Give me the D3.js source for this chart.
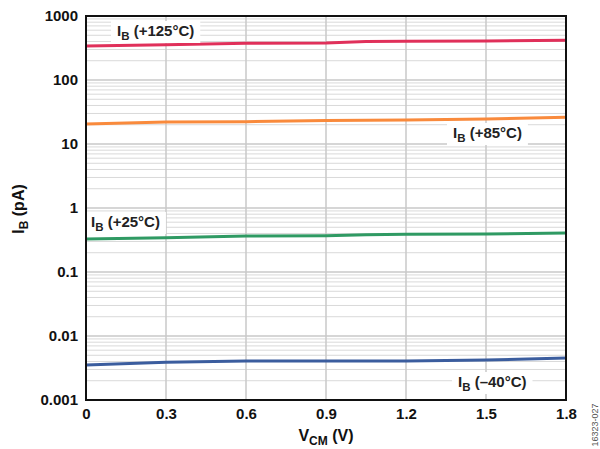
<!DOCTYPE html>
<html><head><meta charset="utf-8">
<script src="https://cdn.jsdelivr.net/npm/d3@7"></script>
<style>body{margin:0;background:#fff}svg{display:block}text{font-family:"Liberation Sans",Arial,sans-serif}</style>
</head><body>
<svg id="c" width="600" height="449"></svg>
<script>
const vcm = [0, 0.3, 0.6, 0.9, 1.05, 1.2, 1.5, 1.8];
const ib125 = [340, 355, 375, 378, 400, 402, 407, 418];
const ib85 = [20.5, 22.1, 22.3, 23.3, 23.6, 23.7, 24.6, 26.1];
const ib25 = [0.328, 0.343, 0.365, 0.369, 0.383, 0.388, 0.393, 0.407];
const ibm40 = [0.00352, 0.00388, 0.00407, 0.00407, 0.00407, 0.00407, 0.00422, 0.00453];
const xTicks = [0, 0.3, 0.6, 0.9, 1.2, 1.5, 1.8];
const xTickLabels = ["0", "0.3", "0.6", "0.9", "1.2", "1.5", "1.8"];
const yTicks = [0.001, 0.01, 0.1, 1, 10, 100, 1000];
const yTickLabels = ["0.001", "0.01", "0.1", "1", "10", "100", "1000"];
const seriesNames = ["+125°C", "+85°C", "+25°C", "–40°C"];
const seriesColors = ["#e0305a", "#f98a3c", "#2f9a63", "#3b5d9e"];

const svg = d3.select("#c");
const L = 86, R = 566, T = 16, B = 400;
const x = d3.scaleLinear().domain([0, 1.8]).range([L, R]);
const y = d3.scaleLog().domain([0.001, 1000]).range([B, T]);

// minor gridlines
const minor = [];
yTicks.slice(0, -1).forEach(d => { for (let k = 2; k <= 9; k++) minor.push(d * k); });
svg.append("g").selectAll("line").data(minor).join("line")
  .attr("x1", L).attr("x2", R).attr("y1", d => y(d)).attr("y2", d => y(d))
  .attr("stroke", "#d9d9d9").attr("stroke-width", 1);
// major horizontal
svg.append("g").selectAll("line").data(yTicks).join("line")
  .attr("x1", L).attr("x2", R).attr("y1", d => y(d)).attr("y2", d => y(d))
  .attr("stroke", "#c8c8c8").attr("stroke-width", 1.5);
// vertical
svg.append("g").selectAll("line").data(xTicks).join("line")
  .attr("x1", d => x(d)).attr("x2", d => x(d)).attr("y1", T).attr("y2", B)
  .attr("stroke", "#c8c8c8").attr("stroke-width", 1.5);

// lines
const allSeries = [ib125, ib85, ib25, ibm40];
const line = d3.line().x((d, i) => x(vcm[i])).y(d => y(d));
allSeries.forEach((s, i) => {
  svg.append("path").datum(s).attr("d", line).attr("fill", "none")
    .attr("stroke", seriesColors[i]).attr("stroke-width", 3);
});

// series labels
const labelPos = [[117, 36], [453, 138], [91, 227], [458, 387]];
labelPos.forEach((p, i) => {
  const g = svg.append("g");
  const t = g.append("text").attr("x", p[0]).attr("y", p[1])
    .attr("font-size", 15).attr("font-weight", "bold").attr("fill", "#222");
  t.append("tspan").text("I");
  t.append("tspan").attr("font-size", 11.5).attr("dy", 4).text("B");
  t.append("tspan").attr("dy", -4).text(" (" + seriesNames[i] + ")");
  const bb = t.node().getBBox();
  g.insert("rect", "text").attr("x", bb.x - 6).attr("y", bb.y - 1)
    .attr("width", bb.width + 12).attr("height", bb.height + 2).attr("fill", "#fff");
});

// frame
svg.append("rect").attr("x", L).attr("y", T).attr("width", R - L).attr("height", B - T)
  .attr("fill", "none").attr("stroke", "#111").attr("stroke-width", 2);

// axes
const xAxis = d3.axisBottom(x).tickValues(xTicks).tickSize(0).tickPadding(8)
  .tickFormat((d, i) => xTickLabels[i]);
const gx = svg.append("g").attr("transform", `translate(0,${B})`).call(xAxis);
gx.select(".domain").remove();
gx.selectAll("text").attr("font-size", 15).attr("font-weight", "bold").attr("fill", "#111")
  .attr("font-family", "Liberation Sans, Arial, sans-serif");

const yAxis = d3.axisLeft(y).tickValues(yTicks).tickSize(0).tickPadding(8)
  .tickFormat((d, i) => yTickLabels[i]);
const gy = svg.append("g").attr("transform", `translate(${L},0)`).call(yAxis);
gy.select(".domain").remove();
gy.selectAll("text").attr("font-size", 15).attr("font-weight", "bold").attr("fill", "#111")
  .attr("font-family", "Liberation Sans, Arial, sans-serif");

// axis titles
const xt = svg.append("text").attr("x", 326).attr("y", 441).attr("text-anchor", "middle")
  .attr("font-size", 16).attr("font-weight", "bold").attr("fill", "#111");
xt.append("tspan").text("V");
xt.append("tspan").attr("font-size", 12).attr("dy", 4).text("CM");
xt.append("tspan").attr("dy", -4).text(" (V)");

const yt = svg.append("text").attr("transform", "translate(24,209) rotate(-90)")
  .attr("text-anchor", "middle").attr("font-size", 16).attr("font-weight", "bold").attr("fill", "#111");
yt.append("tspan").text("I");
yt.append("tspan").attr("font-size", 12).attr("dy", 4).text("B");
yt.append("tspan").attr("dy", -4).text(" (pA)");

svg.append("text").attr("transform", "translate(598,425) rotate(-90)")
  .attr("text-anchor", "middle").attr("font-size", 9).attr("fill", "#555").text("16323-027");
</script>
</body></html>
